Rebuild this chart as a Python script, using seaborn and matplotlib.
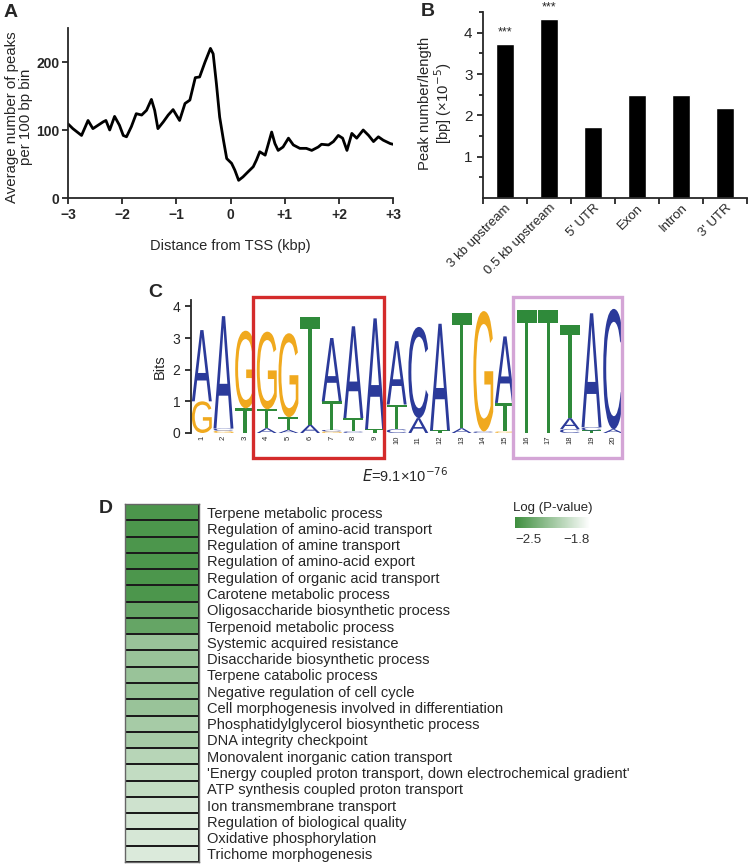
import numpy as np
import pandas as pd
import matplotlib
matplotlib.use("Agg")
import matplotlib.pyplot as plt
import seaborn as sns
from matplotlib.textpath import TextPath
from matplotlib.font_manager import FontProperties
from matplotlib.patches import PathPatch, Rectangle
import matplotlib.transforms as mtransforms
from matplotlib.colors import LinearSegmentedColormap

# ---------------- data ----------------
# Panel A: peak density around TSS
tss_x = [-3.0, -2.91, -2.75, -2.63, -2.54, -2.35, -2.30, -2.23, -2.14, -2.05, -1.98, -1.92,
         -1.83, -1.74, -1.64, -1.55, -1.46, -1.40, -1.34, -1.24, -1.15, -1.06, -1.0, -0.94,
         -0.84, -0.75, -0.65, -0.57, -0.47, -0.37, -0.32, -0.26, -0.20, -0.13, -0.07, 0.02,
         0.08, 0.15, 0.23, 0.33, 0.42, 0.48, 0.54, 0.64, 0.70, 0.76, 0.82, 0.88, 0.97, 1.07,
         1.16, 1.28, 1.40, 1.50, 1.62, 1.68, 1.81, 1.90, 1.99, 2.07, 2.15, 2.24, 2.33, 2.45,
         2.55, 2.64, 2.73, 2.82, 2.95, 3.0]
tss_y = [109, 102, 92, 114, 102, 112, 114, 100, 120, 107, 92, 90,
         105, 124, 122, 129, 145, 129, 102, 112, 122, 130, 122, 114,
         139, 144, 177, 178, 200, 220, 212, 168, 119, 85, 58, 51,
         41, 26, 31, 39, 46, 56, 68, 63, 80, 97, 80, 70, 75, 88,
         78, 73, 73, 70, 75, 79, 78, 83, 92, 88, 70, 95, 88, 100,
         92, 83, 90, 85, 80, 79]
tss_ticks = [-3, -2, -1, 0, 1, 2, 3]
tss_ticklabels = ["\u22123", "\u22122", "\u22121", "0", "+1", "+2", "+3"]

# Panel B: peak density per region
regions = ["3 kb upstream", "0.5 kb upstream", "5' UTR", "Exon", "Intron", "3' UTR"]
region_density = [3.72, 4.32, 1.72, 2.50, 2.48, 2.18]
region_signif = ["***", "***", "", "", "", ""]

# Panel C: motif logo (letters bottom -> top, heights in bits)
logo_letters = ["GA", "GCA", "TG", "ATG", "ATG", "AT", "GCTA", "CTA", "TA", "CTA",
                "AC", "TA", "AT", "CG", "GTA", "T", "T", "CAT", "TCA", "AC"]
logo_heights = [[1.0, 2.25], [0.07, 0.07, 3.55], [0.78, 2.45], [0.15, 0.6, 2.45],
                [0.1, 0.4, 2.65], [0.26, 3.4], [0.05, 0.05, 0.9, 2.0], [0.05, 0.42, 2.9],
                [0.12, 3.5], [0.12, 0.78, 2.0], [0.47, 2.88], [0.08, 3.37],
                [0.15, 3.65], [0.05, 3.8], [0.05, 0.9, 2.1], [3.9], [3.9],
                [0.12, 0.35, 2.95], [0.08, 0.1, 3.6], [0.12, 3.8]]
red_box_cols = [4, 9]
pink_box_cols = [16, 20]

# Panel D: GO enrichment
go_terms = ["Terpene metabolic process", "Regulation of amino-acid transport",
            "Regulation of amine transport", "Regulation of amino-acid export",
            "Regulation of organic acid transport", "Carotene metabolic process",
            "Oligosaccharide biosynthetic process", "Terpenoid metabolic process",
            "Systemic acquired resistance", "Disaccharide biosynthetic process",
            "Terpene catabolic process", "Negative regulation of cell cycle",
            "Cell morphogenesis involved in differentiation",
            "Phosphatidylglycerol biosynthetic process", "DNA integrity checkpoint",
            "Monovalent inorganic cation transport",
            "'Energy coupled proton transport, down electrochemical gradient'",
            "ATP synthesis coupled proton transport", "Ion transmembrane transport",
            "Regulation of biological quality", "Oxidative phosphorylation",
            "Trichome morphogenesis"]
go_logp = [-2.45, -2.45, -2.45, -2.45, -2.45, -2.45, -2.36, -2.36, -2.17, -2.17,
           -2.17, -2.19, -2.17, -2.12, -2.12, -2.06, -2.02, -2.02, -1.98, -1.96,
           -1.95, -1.93]
cbar_range = [-2.5, -1.8]

# ---------------- style ----------------
sns.set_style("ticks")
plt.rcParams["font.family"] = ["Liberation Sans", "DejaVu Sans"]
plt.rcParams["axes.linewidth"] = 1.3

W, H = 748, 868
fig = plt.figure(figsize=(W / 100, H / 100), dpi=100)


def rect(l, t, r, b):
    return [l / W, 1 - b / H, (r - l) / W, (b - t) / H]


# ---------------- Panel A ----------------
axA = fig.add_axes(rect(68, 28, 393, 198))
sns.lineplot(x=tss_x, y=tss_y, color="black", lw=2.0, ax=axA)
axA.lines[0].set_solid_joinstyle("round")
axA.set_xlim(-3, 3)
axA.set_ylim(0, 250)
axA.set_yticks([0, 100, 200])
axA.set_xticks(tss_ticks)
axA.set_xticklabels(tss_ticklabels)
for lab in axA.get_xticklabels() + axA.get_yticklabels():
    lab.set_fontweight("bold")
axA.tick_params(labelsize=10, length=4, width=1.3)
axA.tick_params(axis="y", pad=2)
axA.set_xlabel("Distance from TSS (kbp)", fontsize=10.5, labelpad=12)
axA.set_ylabel("")
fig.text(19 / W, 1 - 117 / H, "Average number of peaks\nper 100 bp bin", rotation=90,
         ha="center", va="center", fontsize=10.8, linespacing=0.95)
sns.despine(ax=axA)

# ---------------- Panel B ----------------
axB = fig.add_axes(rect(483, 12, 747, 198))
dfB = pd.DataFrame({"region": regions, "density": region_density})
sns.barplot(data=dfB, x="region", y="density", color="black", width=0.4,
            saturation=1, ax=axB)
axB.set_xlim(-0.5, len(regions) - 0.5)
axB.set_ylim(0, 4.5)
axB.set_yticks([1, 2, 3, 4])
axB.set_yticks(np.arange(0.5, 4.6, 1.0), minor=True)
axB.set_xticks(np.arange(-0.5, len(regions), 1.0), minor=True)
axB.tick_params(axis="x", which="major", length=0, labelsize=9.5, pad=3)
axB.tick_params(axis="x", which="minor", length=4, width=1.3)
axB.tick_params(axis="y", which="major", length=4, width=1.3, labelsize=11)
axB.tick_params(axis="y", which="minor", length=3, width=1.3)
for lab in axB.get_xticklabels():
    lab.set_rotation(45)
    lab.set_ha("right")
    lab.set_rotation_mode("anchor")
axB.set_xlabel("")
axB.set_ylabel("")
fig.text(436 / W, 1 - 103 / H, "Peak number/length\n[bp] (\u00d710$^{-5}$)", rotation=90,
         ha="center", va="center", fontsize=10.7, linespacing=1.05)
for i, (v, s) in enumerate(zip(region_density, region_signif)):
    if s:
        axB.text(i, v + 0.15, s, ha="center", va="bottom", fontsize=9, clip_on=False)
sns.despine(ax=axB)

# ---------------- Panel C (sequence logo) ----------------
axC = fig.add_axes(rect(191, 300, 624, 433))
letter_colors = {"A": "#2b3a9a", "C": "#2b3a9a", "G": "#f0a91e", "T": "#2f8a3a"}
fp = FontProperties(family="Liberation Sans")


def draw_letter(ax, ch, xc, y0, h, w, color):
    tp = TextPath((0, 0), ch, size=1, prop=fp)
    bb = tp.get_extents()
    t = (mtransforms.Affine2D().translate(-bb.x0, -bb.y0)
         .scale(w / bb.width, h / bb.height).translate(xc - w / 2, y0))
    ax.add_patch(PathPatch(t.transform_path(tp), fc=color, ec="none"))


for i, (letters, heights) in enumerate(zip(logo_letters, logo_heights)):
    pos = i + 1
    y0 = 0.0
    for ch, h in zip(letters, heights):
        draw_letter(axC, ch, pos, y0, h, 0.92, letter_colors[ch])
        y0 += h

axC.set_xlim(0.5, len(logo_letters) + 0.5)
axC.set_ylim(0, 4.2)
axC.set_yticks([0, 1, 2, 3, 4])
axC.set_xticks(range(1, len(logo_letters) + 1))
axC.set_xticklabels([str(i) for i in range(1, len(logo_letters) + 1)],
                    rotation=90, fontsize=5.5)
axC.tick_params(axis="x", length=0, pad=2)
axC.tick_params(axis="y", length=4, width=1.3, labelsize=10)
axC.set_ylabel("Bits", fontsize=10.5, labelpad=4)
for s in ["top", "right", "bottom"]:
    axC.spines[s].set_visible(False)

for cols, col in [(red_box_cols, "#d42b2b"), (pink_box_cols, "#d4a5d6")]:
    x0 = cols[0] - 0.65
    x1 = cols[1] + 0.4
    axC.add_patch(Rectangle((x0, -0.79), x1 - x0, 4.29 + 0.79, fill=False,
                            ec=col, lw=2.4, clip_on=False, zorder=5))

fig.text(405 / W, 1 - 476 / H, "$\\it{E}$=9.1\u00d710$^{-76}$",
         ha="center", va="center", fontsize=10.5)

# ---------------- Panel D (GO heatmap) ----------------
axD = fig.add_axes(rect(125, 504, 199, 862))
cax = fig.add_axes(rect(515, 517, 590, 528))
cmap = LinearSegmentedColormap.from_list("gw", ["#3e8e3e", "#ffffff"])
dfD = pd.DataFrame({"logp": go_logp}, index=go_terms)
sns.heatmap(dfD, ax=axD, cmap=cmap, vmin=cbar_range[0], vmax=cbar_range[1],
            cbar_ax=cax, cbar_kws={"orientation": "horizontal"},
            linewidths=1.3, linecolor="#1c1c1c", xticklabels=False, yticklabels=True)
axD.yaxis.tick_right()
axD.set_ylabel("")
axD.tick_params(axis="y", length=0, pad=6, labelsize=10.5, rotation=0)
for lab in axD.get_yticklabels():
    lab.set_ha("left")
for s in axD.spines.values():
    s.set_visible(True)
    s.set_color("#666666")
    s.set_linewidth(1.0)

cbar = axD.collections[0].colorbar
cbar.outline.set_visible(False)
cbar.set_ticks(cbar_range)
cbar.set_ticklabels(["\u22122.5", "\u22121.8"])
cax.tick_params(length=0, labelsize=9.5, colors="#333333", pad=4)
for lab, ha in zip(cax.get_xticklabels(), ["left", "right"]):
    lab.set_ha(ha)
cax.set_title("Log (P-value)", fontsize=9.5, pad=4)

# ---------------- panel letters ----------------
for lbl, x, y in [("A", 4, 4), ("B", 421, 3), ("C", 148, 284), ("D", 99, 500)]:
    fig.text(x / W, 1 - y / H, lbl, fontsize=14, fontweight="bold", ha="left", va="top")

fig.savefig("out.png", dpi=100)
